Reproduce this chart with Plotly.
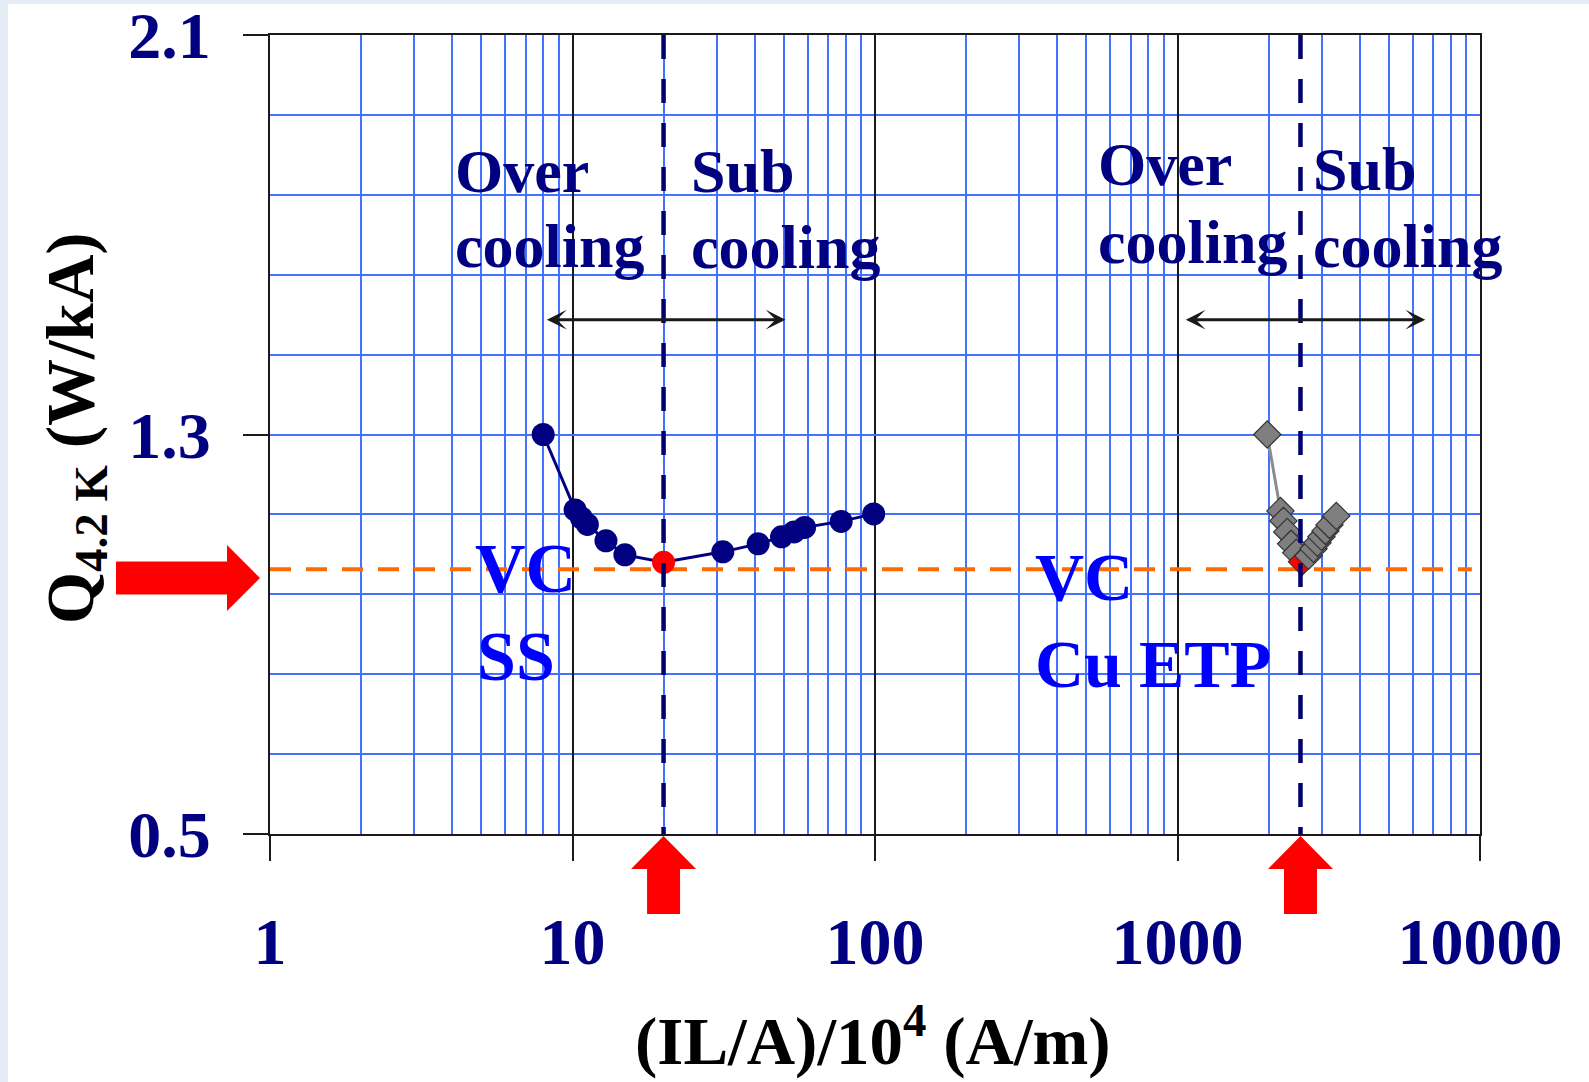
import numpy as np
import plotly.graph_objects as go

# ---------------- data ----------------
ss_x = [8.0, 10.2, 10.7, 11.2, 12.9, 14.9, 20.0, 31.4, 41.1, 49.1, 54.0, 58.5, 77.3, 99.0]
ss_y = [1.300, 1.149, 1.133, 1.120, 1.087, 1.059, 1.044, 1.065, 1.081, 1.095, 1.105, 1.114, 1.126, 1.141]
cu_x = [1980, 2190, 2240, 2305, 2375, 2470, 2580, 2710, 2815, 2900, 2990, 3085, 3180, 3350]
cu_y = [1.300, 1.147, 1.127, 1.105, 1.081, 1.063, 1.045, 1.057, 1.071, 1.083, 1.095, 1.107, 1.119, 1.137]
ss_opt_x = 20.0
cu_opt_x = 2550.0
q_opt = 1.03
orange_x = [1.0, 9400.0]
span_ss = [8.14, 50.6]
span_cu = [1053.0, 6592.0]
span_y = 1.53

x_major = [1, 10, 100, 1000, 10000]
x_labels = ["1", "10", "100", "1000", "10000"]
x_minor = [d * k for d in [1, 10, 100, 1000] for k in range(2, 10)]
y_major = [0.5, 1.3, 2.1]
y_labels = ["0.5", "1.3", "2.1"]
y_minor = [0.66, 0.82, 0.98, 1.14, 1.46, 1.62, 1.78, 1.94]

# ---------------- layout geometry ----------------
W, H = 1589, 1082
L, R, T, B = 270, 109, 35, 248
PW, PH = W - L - R, H - T - B


def pxp(px):
    return (px - L) / PW


def pyp(py):
    return (H - B - py) / PH


NAVY = "#000080"
BLUE = "#4272FF"
BLACK = "#1a1a1a"
SERIF = "Liberation Serif"

fig = go.Figure()

# orange reference line (optimum heat load)
fig.add_trace(go.Scatter(x=orange_x, y=[q_opt, q_opt], mode="lines",
                         line=dict(color="#FF6A00", width=4, dash="21px,15px"),
                         hoverinfo="skip"))

# SS series
ss_opt_i = int(np.argmin(ss_y))
fig.add_trace(go.Scatter(x=ss_x, y=ss_y, mode="lines+markers",
                         line=dict(color=NAVY, width=3),
                         marker=dict(symbol="circle", size=23,
                                     color=["#FF0000" if i == ss_opt_i else NAVY for i in range(len(ss_x))],
                                     line=dict(width=0))))

# Cu ETP series
cu_opt_i = int(np.argmin(cu_y))
fig.add_trace(go.Scatter(x=cu_x, y=cu_y, mode="lines+markers",
                         line=dict(color="#8C8C8C", width=3),
                         marker=dict(symbol="diamond", size=21,
                                     color=["#FF0000" if i == cu_opt_i else "#7F7F7F" for i in range(len(cu_x))],
                                     line=dict(color="#333333", width=1.2))))

# vertical dashed lines at optimum
for xv in [ss_opt_x, cu_opt_x]:
    fig.add_trace(go.Scatter(x=[xv, xv], y=[2.1, 0.5], mode="lines",
                             line=dict(color="#00006E", width=4.5, dash="24px,20px"),
                             hoverinfo="skip"))

annotations = []


def txt(s, px, py, color, size):
    annotations.append(dict(text=s, x=pxp(px), y=pyp(py), xref="paper", yref="paper",
                            xanchor="left", yanchor="middle", showarrow=False,
                            font=dict(family=SERIF, size=size, color=color, weight="bold")))


txt("Over", 453, 171, NAVY, 62)
txt("cooling", 453, 246, NAVY, 62)
txt("Sub", 689, 171, NAVY, 62)
txt("cooling", 689, 247, NAVY, 62)
txt("Over", 1096, 164, NAVY, 62)
txt("cooling", 1096, 242, NAVY, 62)
txt("Sub", 1311, 169, NAVY, 62)
txt("cooling", 1311, 246, NAVY, 62)
txt("VC", 473, 568, "#0000FF", 70)
txt("SS", 475, 656, "#0000FF", 70)
txt("VC", 1033, 577, "#0000FF", 68)
txt("Cu ETP", 1033, 664, "#0000FF", 68)

# double-headed black arrows
for a, b in [span_ss, span_cu]:
    annotations.append(dict(x=np.log10(b), y=span_y, ax=np.log10(a), ay=span_y,
                            xref="x", yref="y", axref="x", ayref="y", text="",
                            showarrow=True, arrowside="end+start", arrowhead=3, startarrowhead=3,
                            arrowsize=1.1, startarrowsize=1.1, arrowwidth=3, arrowcolor=BLACK))

# axis titles
annotations.append(dict(text="(IL/A)/10<sup>4</sup> (A/m)", x=pxp(873), y=pyp(1036), xref="paper", yref="paper",
                        xanchor="center", yanchor="middle", showarrow=False,
                        font=dict(family=SERIF, size=67, color="black", weight="bold")))
annotations.append(dict(text="Q<sub>4.2 K</sub> (W/kA)", x=pxp(75), y=pyp(428), xref="paper", yref="paper",
                        xanchor="center", yanchor="middle", showarrow=False, textangle=-90,
                        font=dict(family=SERIF, size=67, color="black", weight="bold")))

shapes = [
    dict(type="rect", xref="paper", yref="paper", x0=pxp(0), x1=pxp(8), y0=pyp(H), y1=pyp(0),
         fillcolor="#E5ECF6", line=dict(width=0), layer="below"),
    dict(type="rect", xref="paper", yref="paper", x0=pxp(0), x1=pxp(W), y0=pyp(4), y1=pyp(0),
         fillcolor="#E5ECF6", line=dict(width=0), layer="below"),
]
up_arrow = "M0,-2 L32.5,-35 L16.5,-35 L16.5,-80 L-16.5,-80 L-16.5,-35 L-32.5,-35 Z"
for xv in [ss_opt_x, cu_opt_x]:
    shapes.append(dict(type="path", xref="paper", yref="paper", xsizemode="pixel", ysizemode="pixel",
                       xanchor=np.log10(xv) / 4.0, yanchor=0, path=up_arrow,
                       fillcolor="#FF0000", line=dict(width=0)))
shapes.append(dict(type="path", xref="paper", yref="y", xsizemode="pixel", ysizemode="pixel",
                   xanchor=0, yanchor=q_opt,
                   path="M-10,-8.7 L-43,24.3 L-43,7.8 L-154,7.8 L-154,-25.2 L-43,-25.2 L-43,-41.7 Z",
                   fillcolor="#FF0000", line=dict(width=0)))

tickfont = dict(family=SERIF, size=66, color=NAVY, weight="bold")

fig.update_layout(
    template="none",
    width=W, height=H,
    margin=dict(l=L, r=R, t=T, b=B, pad=0, autoexpand=False),
    paper_bgcolor="white", plot_bgcolor="white", showlegend=False,
    annotations=annotations, shapes=shapes,
    xaxis=dict(type="log", range=[0, 4], tickmode="array", tickvals=x_major, ticktext=x_labels,
               showgrid=True, gridcolor=BLACK, gridwidth=1.5,
               showline=True, mirror=True, linecolor=BLACK, linewidth=2,
               ticks="outside", ticklen=25, tickwidth=1.5, tickcolor=BLACK,
               tickfont=tickfont, ticklabelstandoff=24, ticklabeloverflow="allow",
               minor=dict(tickmode="array", tickvals=x_minor, showgrid=True, gridcolor=BLUE, gridwidth=1.5, ticks=""),
               zeroline=False, automargin=False, fixedrange=True),
    yaxis=dict(range=[0.5, 2.1], tickmode="array", tickvals=y_major, ticktext=y_labels,
               showgrid=True, gridcolor=BLUE, gridwidth=1.5,
               showline=True, mirror=True, linecolor=BLACK, linewidth=2,
               ticks="outside", ticklen=25, tickwidth=1.5, tickcolor=BLACK,
               tickfont=tickfont, ticklabelstandoff=19, ticklabeloverflow="allow",
               minor=dict(tickmode="array", tickvals=y_minor, showgrid=True, gridcolor=BLUE, gridwidth=1.5, ticks=""),
               zeroline=False, automargin=False, fixedrange=True),
)

fig.write_html("out.html")
